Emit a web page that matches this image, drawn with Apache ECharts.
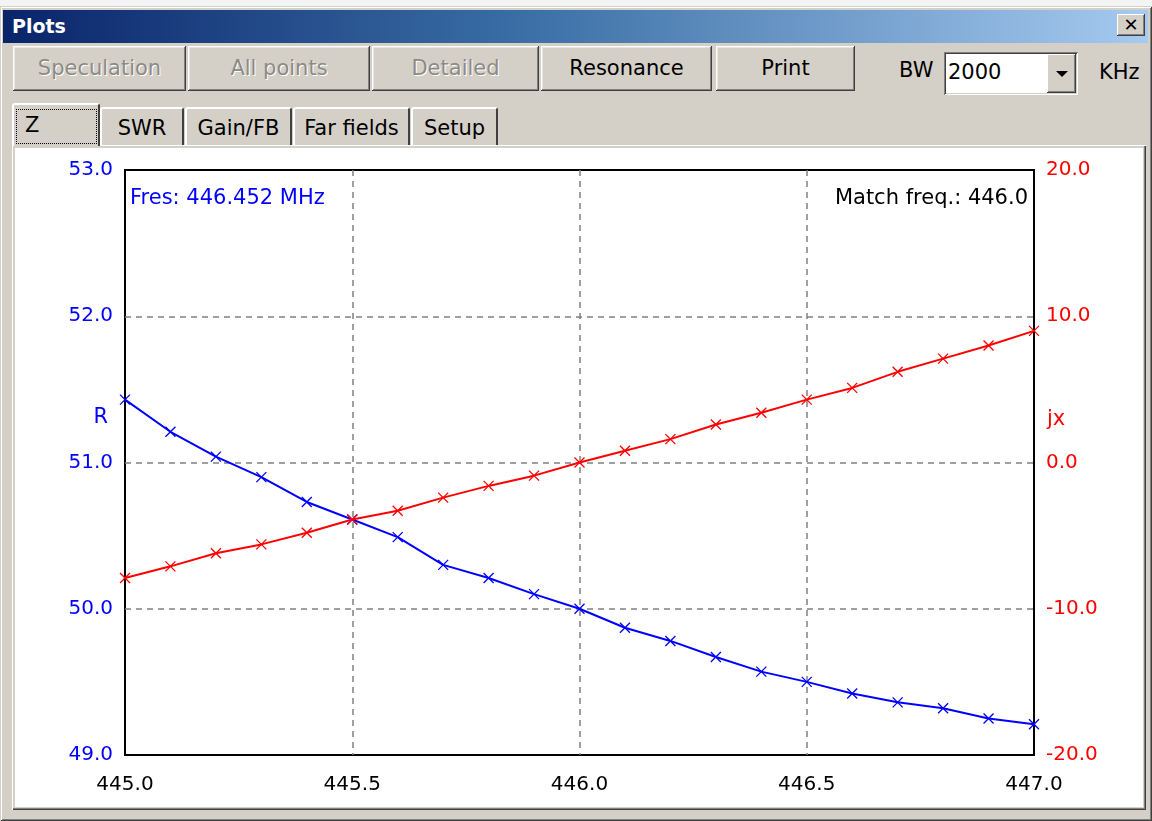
<!DOCTYPE html>
<html>
<head>
<meta charset="utf-8">
<script src="https://cdn.jsdelivr.net/npm/echarts@6/dist/echarts.min.js"></script>
<style>
  html, body { margin:0; padding:0; width:1152px; height:821px; background:#f4f4f4; overflow:hidden; font-family:"DejaVu Sans", sans-serif; }
  #win { position:absolute; left:0; top:6px; width:1152px; height:815px; background:#D4D0C8;
         box-shadow: inset 1px 1px #D4D0C8, inset -1px -1px #404040, inset 2px 2px #fff, inset -2px -2px #808080; }
  #title { position:absolute; left:3px; top:4px; width:1145px; height:33px;
           background:linear-gradient(to right, #0A246A 0%, #3A6EA5 45%, #A6CAF0 100%); }
  #title span { position:absolute; left:9px; top:5px; color:#fff; font-weight:bold; font-size:19px; }
  #close { position:absolute; left:1114px; top:4px; width:28px; height:22px; background:#D4D0C8;
           box-shadow: inset -1px -1px #404040, inset 1px 1px #fff, inset -2px -2px #808080;
           font-size:18px; font-weight:bold; text-align:center; line-height:22px; color:#000; }
  .btn { position:absolute; top:40px; height:45px; background:#D4D0C8; font-size:21px; text-align:center; line-height:45px; color:#000;
         box-shadow: inset -1px -1px #404040, inset 1px 1px #fff, inset -2px -2px #808080, inset 2px 2px #e8e6e2; }
  .dis { color:#8d8a85; text-shadow:1px 1px #fff; }
  .lbl { position:absolute; font-size:21px; color:#000; }
  #combo { position:absolute; left:944px; top:46px; width:134px; height:43px; background:#fff;
           box-shadow: inset 1px 1px #808080, inset -1px -1px #fff, inset 2px 2px #404040, inset -2px -2px #D4D0C8; }
  #combo span { position:absolute; left:4px; top:8px; font-size:21px; }
  #drop { position:absolute; left:103px; top:2px; width:29px; height:39px; background:#D4D0C8;
          box-shadow: inset -1px -1px #404040, inset 1px 1px #fff, inset -2px -2px #808080; }
  #drop:after { content:""; position:absolute; left:9px; top:17px; border-left:6px solid transparent; border-right:6px solid transparent; border-top:6px solid #000; }
  .tab { position:absolute; height:38px; top:101px; background:#D4D0C8; font-size:21px; line-height:38px; color:#000;
         border-left:2px solid #fff; border-top:2px solid #fff; border-right:2px solid #404040; border-radius:3px 3px 0 0; box-sizing:border-box; text-align:center; }
  .tab.sel { top:97px; height:43px; z-index:3; }
  #focus { position:absolute; left:2px; top:4px; right:1px; bottom:2px; border:1px dotted #000; text-align:left; line-height:30px; padding-left:8px; }
  #pane { position:absolute; left:12px; top:139px; width:1134px; height:665px; background:#D4D0C8;
          box-shadow: inset 1px 1px #fff, inset -1px -1px #404040, inset -2px -2px #808080; z-index:2; }
  #chart { position:absolute; left:15px; top:142px; width:1128px; height:659px; background:#fff; z-index:4; }
</style>
</head>
<body>
<div id="win">
  <div id="title"><span>Plots</span><div id="close">✕</div></div>
  <div class="btn dis" style="left:13px;width:173px;">Speculation</div>
  <div class="btn dis" style="left:188px;width:182px;">All points</div>
  <div class="btn dis" style="left:372px;width:167px;">Detailed</div>
  <div class="btn" style="left:541px;width:171px;">Resonance</div>
  <div class="btn" style="left:716px;width:139px;">Print</div>
  <div class="lbl" style="left:899px;top:52px;">BW</div>
  <div id="combo"><span>2000</span><div id="drop"></div></div>
  <div class="lbl" style="left:1099px;top:54px;">KHz</div>
  <div class="tab sel" style="left:12px;width:88px;"><div id="focus">Z</div></div>
  <div class="tab" style="left:100px;width:84px;">SWR</div>
  <div class="tab" style="left:185px;width:107px;">Gain/FB</div>
  <div class="tab" style="left:293px;width:117px;">Far fields</div>
  <div class="tab" style="left:411px;width:87px;">Setup</div>
  <div id="pane"></div>
  <div id="chart"></div>
</div>
<script>
// Frequency (MHz)
const freq = [445.0,445.1,445.2,445.3,445.4,445.5,445.6,445.7,445.8,445.9,446.0,446.1,446.2,446.3,446.4,446.5,446.6,446.7,446.8,446.9,447.0];
// Resistance R (ohm)
const rVals = [51.43,51.21,51.04,50.90,50.73,50.61,50.49,50.30,50.21,50.10,50.00,49.87,49.78,49.67,49.57,49.50,49.42,49.36,49.32,49.25,49.21];
// Reactance jx (ohm)
const jxVals = [-7.9,-7.1,-6.2,-5.6,-4.8,-3.9,-3.3,-2.4,-1.6,-0.9,0.0,0.8,1.6,2.6,3.4,4.3,5.1,6.2,7.1,8.0,9.0];
const fresText = "Fres: 446.452 MHz";
const matchText = "Match freq.: 446.0";

const FONT = '"DejaVu Sans", sans-serif';
const crossPath = 'path://M0,0L10,10M0,10L10,0';
const gridLine = { show:true, showMinLine:false, showMaxLine:false, lineStyle:{ color:'#808080', type:[6,5], width:1.5 } };
const chart = echarts.init(document.getElementById('chart'), null, {renderer:'canvas'});
chart.setOption({
  animation:false,
  backgroundColor:'#fff',
  grid:{ left:110, right:109, top:22, bottom:52, show:true, borderColor:'#000', borderWidth:2, backgroundColor:'transparent' },
  xAxis:{ type:'value', min:445, max:447, interval:0.5,
    axisLine:{show:false}, axisTick:{show:false},
    axisLabel:{ color:'#000', fontSize:20, fontFamily:FONT, margin:20, formatter:v=>v.toFixed(1) },
    splitLine:gridLine },
  yAxis:[
    { type:'value', min:49, max:53, interval:1, position:'left',
      axisLine:{show:false}, axisTick:{show:false},
      axisLabel:{ color:'#0000ff', fontSize:20, fontFamily:FONT, margin:12, formatter:v=>v.toFixed(1) },
      splitLine:gridLine },
    { type:'value', min:-20, max:20, interval:10, position:'right',
      axisLine:{show:false}, axisTick:{show:false},
      axisLabel:{ color:'#ff0000', fontSize:20, fontFamily:FONT, margin:12, formatter:v=>v.toFixed(1) },
      splitLine:{ show:false } }
  ],
  series:[
    { type:'line', yAxisIndex:0, data:freq.map((f,i)=>[f,rVals[i]]), symbol:crossPath, symbolSize:10, showSymbol:true,
      lineStyle:{ color:'#0000ff', width:2 }, itemStyle:{ color:'#0000ff', borderColor:'#0000ff', borderWidth:1.3 }, emphasis:{disabled:true}, z:3 },
    { type:'line', yAxisIndex:1, data:freq.map((f,i)=>[f,jxVals[i]]), symbol:crossPath, symbolSize:10, showSymbol:true,
      lineStyle:{ color:'#ff0000', width:2 }, itemStyle:{ color:'#ff0000', borderColor:'#ff0000', borderWidth:1.3 }, emphasis:{disabled:true}, z:4 }
  ],
  graphic:[
    { type:'text', x:115, y:51, style:{ text:fresText, fill:'#0000ff', font:'21px '+FONT, textAlign:'left', textVerticalAlign:'middle' } },
    { type:'text', x:1013, y:51, style:{ text:matchText, fill:'#000', font:'21px '+FONT, textAlign:'right', textVerticalAlign:'middle' } },
    { type:'text', x:93, y:270, style:{ text:'R', fill:'#0000ff', font:'21px '+FONT, textAlign:'right', textVerticalAlign:'middle' } },
    { type:'text', x:1032, y:272, style:{ text:'jx', fill:'#ff0000', font:'21px '+FONT, textAlign:'left', textVerticalAlign:'middle' } }
  ]
});
</script>
</body>
</html>
